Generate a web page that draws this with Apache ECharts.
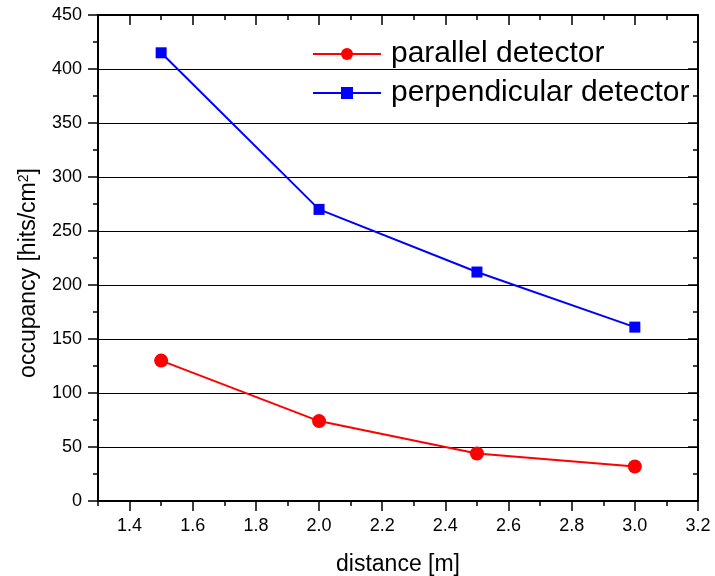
<!DOCTYPE html>
<html>
<head>
<meta charset="utf-8">
<script src="https://cdn.jsdelivr.net/npm/echarts@6/dist/echarts.min.js"></script>
<style>
  html, body { margin: 0; padding: 0; background: #fff; }
  #chart { width: 715px; height: 576px; }
</style>
</head>
<body>
<div id="chart"></div>
<script>
// distance in metres
const distances = [1.5, 2.0, 2.5, 3.0];
// occupancy, hits/cm^2
const parallelHits = [130, 74, 44, 32];
const perpendicularHits = [415, 270, 212, 161];

const xMajorTicks = [1.4, 1.6, 1.8, 2.0, 2.2, 2.4, 2.6, 2.8, 3.0, 3.2];
const xMinorTicks = [1.3, 1.5, 1.7, 1.9, 2.1, 2.3, 2.5, 2.7, 2.9, 3.1];

const FONT = 'Liberation Sans, Arial, sans-serif';
const X_MIN = 1.3;
const X_MAX = 3.2;

const pairs = ( ys ) => distances.map( ( x, i ) => [x, ys[i]] );

const axisLine = { show: true, lineStyle: { color: '#000', width: 2 } };
const tickStyle = { color: '#000', width: 1.5 };

function xAxisOf( position, ticks, len, inside, withLabels ) {
  return {
    type: 'value',
    position: position,
    offset: 0,
    min: X_MIN,
    max: X_MAX,
    axisLine: withLabels || position === 'top' ? axisLine : { show: false },
    axisTick: { show: true, inside: inside, length: len, customValues: ticks, lineStyle: tickStyle },
    axisLabel: withLabels ? {
      show: true, customValues: ticks, margin: 16,
      fontSize: 18, color: '#000', fontFamily: FONT,
      formatter: ( v ) => v.toFixed( 1 )
    } : { show: false },
    splitLine: { show: false },
    name: withLabels ? 'distance [m]' : '',
    nameLocation: 'middle',
    nameGap: 52,
    nameTextStyle: { fontSize: 23, color: '#000', fontFamily: FONT }
  };
}

const chart = echarts.init( document.getElementById( 'chart' ) );

chart.setOption( {
  animation: false,
  backgroundColor: '#fff',
  grid: { left: 98, right: 17, top: 15, bottom: 75, containLabel: false, outerBoundsMode: 'none' },
  legend: {
    orient: 'vertical',
    left: 312,
    top: 39,
    itemWidth: 68,
    itemHeight: 15,
    itemGap: 9,
    padding: 0,
    textStyle: { fontSize: 30, color: '#000', fontFamily: FONT, padding: [0, 0, 0, 5] },
    data: ['parallel detector', 'perpendicular detector']
  },
  xAxis: [
    xAxisOf( 'bottom', xMajorTicks, 10, false, true ),
    xAxisOf( 'bottom', xMinorTicks, 5, false, false ),
    xAxisOf( 'top', xMajorTicks, 10, true, false ),
    xAxisOf( 'top', xMinorTicks, 5, true, false )
  ],
  yAxis: [
    {
      type: 'value',
      position: 'left',
      min: 0,
      max: 450,
      interval: 50,
      axisLine: axisLine,
      axisTick: { show: true, inside: false, length: 10, lineStyle: tickStyle },
      minorTick: { show: true, splitNumber: 2, length: 5, lineStyle: tickStyle },
      axisLabel: { margin: 16, fontSize: 18, color: '#000', fontFamily: FONT },
      splitLine: { show: true, lineStyle: { color: '#000', width: 1 } },
      name: 'occupancy [hits/cm{sup|2}]',
      nameLocation: 'middle',
      nameRotate: 90,
      nameGap: 58,
      nameTextStyle: {
        fontSize: 23, color: '#000', fontFamily: FONT, padding: [0, 30, 0, 0],
        rich: { sup: { fontSize: 14, color: '#000', fontFamily: FONT, verticalAlign: 'top', padding: [0, 0, 8, 0] } }
      }
    },
    {
      type: 'value',
      position: 'right',
      min: 0,
      max: 450,
      interval: 50,
      axisLine: axisLine,
      axisTick: { show: true, inside: true, length: 10, lineStyle: tickStyle },
      minorTick: { show: true, splitNumber: 2, length: 5, lineStyle: tickStyle },
      axisLabel: { show: false },
      splitLine: { show: false }
    }
  ],
  series: [
    {
      name: 'parallel detector',
      type: 'line',
      data: pairs( parallelHits ),
      symbol: 'circle',
      symbolSize: 14,
      itemStyle: { color: '#ff0000' },
      lineStyle: { color: '#ff0000', width: 2 }
    },
    {
      name: 'perpendicular detector',
      type: 'line',
      data: pairs( perpendicularHits ),
      symbol: 'rect',
      symbolSize: 11,
      itemStyle: { color: '#0000ff' },
      lineStyle: { color: '#0000ff', width: 2 }
    }
  ]
} );
</script>
</body>
</html>
